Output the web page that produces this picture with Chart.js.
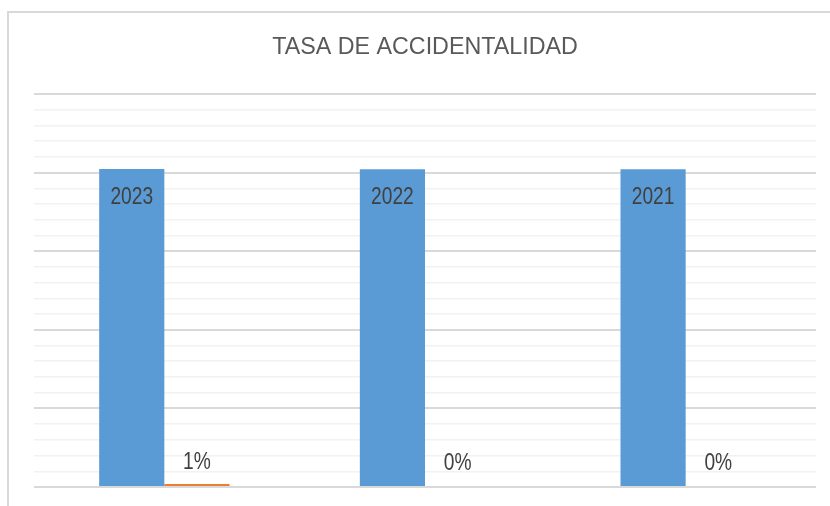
<!DOCTYPE html>
<html>
<head>
<meta charset="utf-8">
<script src="https://cdn.jsdelivr.net/npm/chart.js@4/dist/chart.umd.min.js"></script>
<style>
  html, body { margin: 0; padding: 0; background: #fff; }
  #wrap { position: relative; width: 830px; height: 506px; overflow: hidden; }
  #frame { position: absolute; left: 7px; top: 11px; width: 900px; height: 600px;
           border-left: 2px solid #d9d9d9; border-top: 2px solid #d9d9d9; }
  canvas { position: absolute; left: 0; top: 0; }
</style>
</head>
<body>
<div id="wrap">
  <div id="frame"></div>
  <canvas id="chart" width="830" height="506"></canvas>
</div>
<script>
// Chart data
const categories = ['2023', '2022', '2021']
const yearValues = [2023, 2022, 2021]
const rateValues = [0.01, 0, 0]

const FONT = '"Liberation Sans Narrow", "Arial Narrow", "Liberation Sans", Arial, sans-serif'
const BLUE = '#5b9bd5'
const ORANGE = '#ed7d31'

// condensed text, the reference uses a narrow face
function narrowText(ctx, text, x, y, sx) {
  ctx.save()
  ctx.translate(x, y)
  ctx.scale(sx, 1)
  ctx.fillText(text, 0, 0)
  ctx.restore()
}

// draw value labels like Excel data labels
const valueLabels = {
  id: 'valueLabels',
  afterDatasetsDraw(chart) {
    const ctx = chart.ctx
    ctx.save()
    ctx.font = '24px ' + FONT
    ctx.fillStyle = '#404040'
    ctx.textAlign = 'center'
    ctx.textBaseline = 'middle'
    chart.data.datasets.forEach((ds, i) => {
      const meta = chart.getDatasetMeta(i)
      meta.data.forEach((el, j) => {
        const v = ds.data[j]
        if (v === null || v === undefined) return
        if (ds.kind === 'year') {
          narrowText(ctx, String(v), el.x, el.y + 28, 0.8)
        } else {
          narrowText(ctx, Math.round(v * 100) + '%', el.x, el.base - 24, 0.8)
        }
      })
    })
    ctx.restore()
  }
}

// title drawn centred over the plot area
const chartTitle = {
  id: 'chartTitle',
  afterDraw(chart) {
    const ctx = chart.ctx
    const a = chart.chartArea
    ctx.save()
    ctx.font = '24px ' + FONT
    ctx.fillStyle = '#595959'
    ctx.textAlign = 'center'
    ctx.textBaseline = 'middle'
    narrowText(ctx, 'TASA DE ACCIDENTALIDAD', (a.left + a.right) / 2, 47, 0.97)
    ctx.restore()
  }
}

new Chart(document.getElementById('chart'), {
  type: 'bar',
  data: {
    labels: categories,
    datasets: [
      {
        kind: 'year',
        data: yearValues,
        backgroundColor: BLUE,
        stack: 'years',
        categoryPercentage: 0.5,
        barPercentage: 1.0
      },
      {
        kind: 'rate',
        data: rateValues.map(v => v > 0 ? v : null),
        backgroundColor: ORANGE,
        stack: 'rate',
        minBarLength: 3,
        categoryPercentage: 0.5,
        barPercentage: 1.0
      },
      {
        kind: 'rate',
        data: rateValues.map(v => v > 0 ? null : v),
        backgroundColor: ORANGE,
        stack: 'rate',
        categoryPercentage: 0.5,
        barPercentage: 1.0
      }
    ]
  },
  options: {
    responsive: false,
    animation: false,
    layout: { padding: { left: 34, right: 14, top: 94, bottom: 11 } },
    plugins: {
      legend: { display: false },
      tooltip: { enabled: false },
      title: { display: false }
    },
    scales: {
      x: {
        ticks: { display: false },
        grid: { display: false },
        border: { display: false }
      },
      y: {
        min: 0,
        max: 2500,
        ticks: { display: false, stepSize: 100 },
        border: { display: false },
        grid: {
          drawTicks: false,
          color: ctx => (ctx.tick && ctx.tick.value % 500 === 0) ? '#d9d9d9' : '#f2f2f2',
          lineWidth: ctx => (ctx.tick && ctx.tick.value % 500 === 0) ? 2 : 1.5
        }
      }
    }
  },
  plugins: [valueLabels, chartTitle]
})
</script>
</body>
</html>
